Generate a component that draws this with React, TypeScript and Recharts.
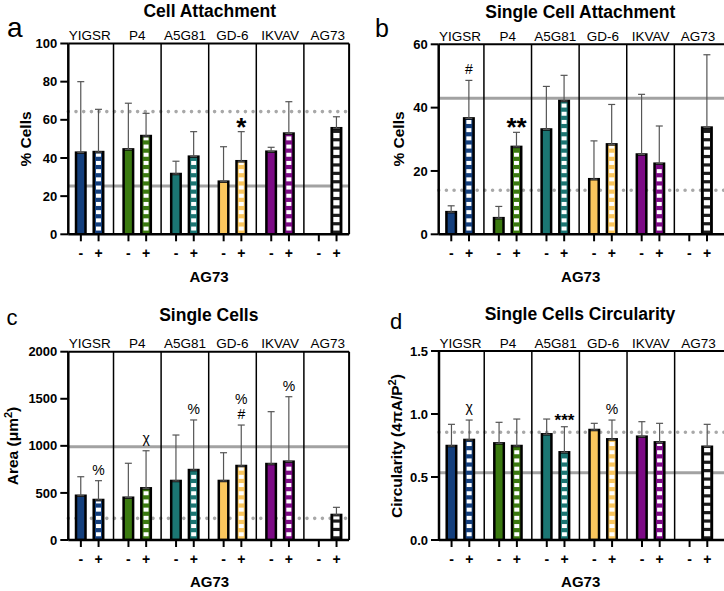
import React from 'react';
import { ComposedChart, Bar, XAxis, YAxis, ReferenceLine, ErrorBar, Scatter } from 'recharts';

const FONT = "'Liberation Sans', Arial, Helvetica, sans-serif";

const GROUPS = ['YIGSR', 'P4', 'A5G81', 'GD-6', 'IKVAV', 'AG73'];
const COLORS = ['#143f7d', '#3b7a10', '#1b7673', '#fac65d', '#7c0a85', '#1c1c1c'];
const SIGNS = ['-', '+'];

// Panel a: Cell Attachment (% Cells)
const A_MINUS = [42.8, 44.5, 31.6, 27.6, 43.3, null];
const A_MINUS_TOP = [80.0, 68.7, 38.3, 45.9, 45.6, null];
const A_PLUS = [43.1, 51.5, 40.7, 38.3, 52.8, 55.6];
const A_PLUS_TOP = [65.5, 63.4, 53.8, 53.8, 69.5, 61.6];
const A_SIG = ['', '', '', '*', '', ''];
const A_TICKS = [0, 20, 40, 60, 80, 100];
const A_DOTTED = 64.3;
const A_SOLID = 25.3;

// Panel b: Single Cell Attachment (% Cells)
const B_MINUS = [7.0, 5.1, 33.1, 17.4, 25.2, null];
const B_MINUS_TOP = [9.0, 8.8, 46.7, 29.5, 44.2, null];
const B_PLUS = [36.6, 27.6, 42.1, 28.4, 22.3, 33.7];
const B_PLUS_TOP = [48.6, 32.2, 50.2, 41.0, 34.2, 56.7];
const B_SIG = ['#', '**', '', '', '', ''];
const B_TICKS = [0, 20, 40, 60];
const B_DOTTED = 13.9;
const B_SOLID = 43.0;

// Panel c: Single Cells (Area)
const C_MINUS = [470, 449, 627, 627, 807, null];
const C_MINUS_TOP = [672, 815, 1115, 927, 1363, null];
const C_PLUS = [425, 549, 743, 786, 832, 266];
const C_PLUS_TOP = [630, 948, 1275, 1221, 1522, 347];
const C_SIG = ['%', 'χ', '%', '%\n#', '%', ''];
const C_TICKS = [0, 500, 1000, 1500, 2000];
const C_DOTTED = 230;
const C_SOLID = 991;

// Panel d: Single Cells Circularity
const D_MINUS = [0.746, 0.767, 0.839, 0.873, 0.82, null];
const D_MINUS_TOP = [0.918, 0.934, 0.96, 0.926, 0.939, null];
const D_PLUS = [0.794, 0.746, 0.696, 0.799, 0.775, 0.74];
const D_PLUS_TOP = [0.952, 0.96, 0.899, 0.952, 0.926, 0.918];
const D_SIG = ['χ', '', '***', '%', '', ''];
const D_TICKS = [0, 0.5, 1.0, 1.5];
const D_DOTTED = 0.855;
const D_SOLID = 0.534;

const OFF = 0.186;
const X_MIN = 0.05;

function buildRows(minus: (number | null)[], minusTop: (number | null)[], plus: number[], plusTop: number[]) {
  const rows: any[] = [];
  GROUPS.forEach((_, g) => {
    const m = minus[g];
    const mt = minusTop[g];
    if (m != null && mt != null) rows.push({ x: g + 0.5 - OFF, value: m, err: [0, mt - m], g, s: 0 });
    rows.push({ x: g + 0.5 + OFF, value: plus[g], err: [0, plusTop[g] - plus[g]], g, s: 1 });
  });
  return rows;
}

function buildSigs(plusTop: number[], sig: string[]) {
  return GROUPS.map((_, g) => ({ x: g + 0.5 + OFF, y: plusTop[g], sig: sig[g] })).filter((r) => r.sig);
}

const TICK_XS = GROUPS.flatMap((_, g) => [g + 0.5 - OFF, g + 0.5 + OFF]);
const DIVIDERS = [1, 2, 3, 4, 5];

const BarShape = (props: any) => {
  const { x, y, width, height, payload } = props;
  if (height == null || height <= 0) return <g />;
  const sw = 2.5;
  const fill = COLORS[payload.g];
  const parts: any[] = [<rect key="f" x={x} y={y} width={width} height={height} fill={fill} />];
  if (payload.s === 1) {
    const dark = payload.g === 5;
    const whiteH = dark ? 5.2 : 4;
    const period = dark ? 8.4 : 8.2;
    const inset = dark ? sw / 2 + 0.4 : sw / 2 + 1;
    const innerTop = y + sw / 2;
    let yy = y + height - sw / 2 - 2.5 - whiteH;
    let k = 0;
    while (yy + whiteH > innerTop + 1) {
      const t = Math.max(yy, innerTop);
      parts.push(
        <rect key={'w' + k} x={x + inset} y={t} width={width - 2 * inset} height={yy + whiteH - t} fill="#ffffff" />
      );
      yy -= period;
      k++;
    }
  }
  parts.push(<rect key="s" x={x} y={y} width={width} height={height} fill="none" stroke="#000" strokeWidth={sw} />);
  return <g>{parts}</g>;
};

function makeSigShape(starSize: number) {
  return (props: any) => {
    const { cx, cy, payload } = props;
    const lines: string[] = String(payload.sig).split('\n');
    const n = lines.length;
    return (
      <g>
        {lines.map((ln, i) => {
          const fromBottom = n - 1 - i;
          const center = cy - 11 - fromBottom * 15;
          const star = ln.indexOf('*') >= 0;
          const size = star ? starSize : 14;
          const k = star ? 0.58 : ln === 'χ' ? 0.2 : 0.35;
          return (
            <text
              key={i}
              x={cx}
              y={center + k * size}
              textAnchor="middle"
              fontFamily={FONT}
              fontSize={size}
              fontWeight={star ? 'bold' : 'normal'}
              fill="#000"
            >
              {ln}
            </text>
          );
        })}
      </g>
    );
  };
}

function makeGroupLabel(name: string) {
  return (lp: any) => {
    const vb = lp.viewBox || {};
    const cx = (vb.x || 0) + (vb.width || 0) / 2;
    return (
      <text x={cx} y={(vb.y || 0) - 3.5} textAnchor="middle" fontFamily={FONT} fontSize={13.5} fill="#000">
        {name}
      </text>
    );
  };
}

type PanelProps = {
  left: number;
  top: number;
  width: number;
  height: number;
  plot: { l: number; t: number; r: number; b: number };
  xMax: number;
  yMax: number;
  yTicks: number[];
  yFmt: (v: number) => string;
  rows: any[];
  sigs: any[];
  dotted: number;
  solid: number;
  starSize: number;
};

const BOT_H = 40;
const Y_W = 60;

function Panel(p: PanelProps) {
  const margin = {
    top: p.plot.t - p.top,
    left: p.plot.l - p.left - Y_W,
    right: p.left + p.width - p.plot.r,
    bottom: p.top + p.height - p.plot.b - BOT_H,
  };
  const sigShape = makeSigShape(p.starSize);
  return (
    <div style={{ position: 'absolute', left: p.left, top: p.top, width: p.width, height: p.height }}>
      <ComposedChart width={p.width} height={p.height} data={p.rows} margin={margin}>
        <XAxis
          dataKey="x"
          type="number"
          domain={[X_MIN, p.xMax]}
          allowDataOverflow
          ticks={TICK_XS}
          interval={0}
          tickFormatter={(v: number) => SIGNS[v - Math.floor(v) < 0.5 ? 0 : 1]}
          height={BOT_H}
          axisLine={{ stroke: '#000', strokeWidth: 2.5 }}
          tickLine={{ stroke: '#000', strokeWidth: 2 }}
          tickSize={7}
          tickMargin={7}
          tick={{ fill: '#000', fontSize: 14, fontWeight: 'bold', fontFamily: FONT }}
        />
        <YAxis
          type="number"
          domain={[0, p.yMax]}
          allowDataOverflow
          ticks={p.yTicks}
          interval={0}
          tickFormatter={p.yFmt}
          width={Y_W}
          axisLine={{ stroke: '#000', strokeWidth: 2.5 }}
          tickLine={{ stroke: '#000', strokeWidth: 2 }}
          tickSize={8}
          tickMargin={3}
          tick={{ fill: '#000', fontSize: 13, fontWeight: 'bold', fontFamily: FONT }}
        />
        <ReferenceLine y={p.solid} stroke="#a2a2a2" strokeWidth={3} zIndex={250} />
        <ReferenceLine
          y={p.dotted}
          stroke="#a8a8a8"
          strokeWidth={3.6}
          strokeDasharray="0 7.7"
          strokeLinecap="round"
          zIndex={250}
        />
        {DIVIDERS.map((d) => (
          <ReferenceLine key={d} x={d} stroke="#000" strokeWidth={1.5} />
        ))}
        {GROUPS.map((name, g) => (
          <ReferenceLine
            key={'g' + g}
            x={g + 0.5}
            stroke="none"
            label={{ value: name, position: 'top', content: makeGroupLabel(name) }}
          />
        ))}
        <ReferenceLine x={p.xMax} stroke="#000" strokeWidth={2} />
        <ReferenceLine y={p.yMax} stroke="#000" strokeWidth={2} />
        <Bar dataKey="value" barSize={9.5} isAnimationActive={false} shape={BarShape}>
          <ErrorBar dataKey="err" width={3.5} stroke="#555" strokeWidth={1.2} direction="y" />
        </Bar>
        <Scatter data={p.sigs} dataKey="y" isAnimationActive={false} shape={sigShape} />
      </ComposedChart>
    </div>
  );
}

const TITLE = { fontFamily: FONT, fontWeight: 'bold' as const, fontSize: 17.5, fill: '#000' };
const AXT = { fontFamily: FONT, fontWeight: 'bold' as const, fontSize: 15.5, fill: '#000' };

export default function App() {
  const aRows = buildRows(A_MINUS, A_MINUS_TOP, A_PLUS, A_PLUS_TOP);
  const bRows = buildRows(B_MINUS, B_MINUS_TOP, B_PLUS, B_PLUS_TOP);
  const cRows = buildRows(C_MINUS, C_MINUS_TOP, C_PLUS, C_PLUS_TOP);
  const dRows = buildRows(D_MINUS, D_MINUS_TOP, D_PLUS, D_PLUS_TOP);
  return (
    <div style={{ position: 'absolute', left: 0, top: 0, width: 724, height: 591, overflow: 'hidden', background: '#fff' }}>
      <svg width={724} height={591} style={{ position: 'absolute', left: 0, top: 0 }}>
        <text x={7} y={37} fontFamily={FONT} fontSize={28} fill="#000">a</text>
        <text x={375} y={36.7} fontFamily={FONT} fontSize={25} fill="#000">b</text>
        <text x={6.5} y={325} fontFamily={FONT} fontSize={22} fill="#000">c</text>
        <text x={390} y={329} fontFamily={FONT} fontSize={22} fill="#000">d</text>

        <text x={209.7} y={16.7} textAnchor="middle" {...TITLE}>Cell Attachment</text>
        <text x={580.3} y={17.5} textAnchor="middle" {...TITLE}>Single Cell Attachment</text>
        <text x={208.8} y={320.7} textAnchor="middle" {...TITLE}>Single Cells</text>
        <text x={580} y={320} textAnchor="middle" {...TITLE}>Single Cells Circularity</text>

        <text transform="translate(31,139) rotate(-90)" textAnchor="middle" {...AXT}>% Cells</text>
        <text transform="translate(404,139) rotate(-90)" textAnchor="middle" {...AXT}>% Cells</text>
        <text transform="translate(18,446) rotate(-90)" textAnchor="middle" {...AXT}>
          Area (μm<tspan dy={-6} fontSize={11}>2</tspan><tspan dy={6}>)</tspan>
        </text>
        <text transform="translate(401.5,446) rotate(-90)" textAnchor="middle" {...AXT}>
          Circularity (4πA/P<tspan dy={-6} fontSize={11}>2</tspan><tspan dy={6}>)</tspan>
        </text>

        <text x={209} y={281.7} textAnchor="middle" fontFamily={FONT} fontWeight="bold" fontSize={15} fill="#000">AG73</text>
        <text x={580.7} y={281.7} textAnchor="middle" fontFamily={FONT} fontWeight="bold" fontSize={15} fill="#000">AG73</text>
        <text x={209.5} y={586.7} textAnchor="middle" fontFamily={FONT} fontWeight="bold" fontSize={15} fill="#000">AG73</text>
        <text x={580.7} y={586.7} textAnchor="middle" fontFamily={FONT} fontWeight="bold" fontSize={15} fill="#000">AG73</text>
      </svg>

      <Panel
        left={0}
        top={0}
        width={362}
        height={295}
        plot={{ l: 68.3, t: 43.5, r: 349.1, b: 234.3 }}
        xMax={5.95}
        yMax={100}
        yTicks={A_TICKS}
        yFmt={(v) => String(v)}
        rows={aRows}
        sigs={buildSigs(A_PLUS_TOP, A_SIG)}
        dotted={A_DOTTED}
        solid={A_SOLID}
        starSize={26}
      />
      <Panel
        left={362}
        top={0}
        width={370}
        height={295}
        plot={{ l: 438.7, t: 44.3, r: 726.7, b: 234.3 }}
        xMax={6.1}
        yMax={60}
        yTicks={B_TICKS}
        yFmt={(v) => String(v)}
        rows={bRows}
        sigs={buildSigs(B_PLUS_TOP, B_SIG)}
        dotted={B_DOTTED}
        solid={B_SOLID}
        starSize={26}
      />
      <Panel
        left={0}
        top={295}
        width={362}
        height={296}
        plot={{ l: 68.3, t: 351.7, r: 349.1, b: 540 }}
        xMax={5.95}
        yMax={2000}
        yTicks={C_TICKS}
        yFmt={(v) => String(v)}
        rows={cRows}
        sigs={buildSigs(C_PLUS_TOP, C_SIG)}
        dotted={C_DOTTED}
        solid={C_SOLID}
        starSize={26}
      />
      <Panel
        left={362}
        top={295}
        width={370}
        height={296}
        plot={{ l: 439, t: 351, r: 727, b: 540 }}
        xMax={6.1}
        yMax={1.5}
        yTicks={D_TICKS}
        yFmt={(v) => v.toFixed(1)}
        rows={dRows}
        sigs={buildSigs(D_PLUS_TOP, D_SIG)}
        dotted={D_DOTTED}
        solid={D_SOLID}
        starSize={17}
      />
    </div>
  );
}
